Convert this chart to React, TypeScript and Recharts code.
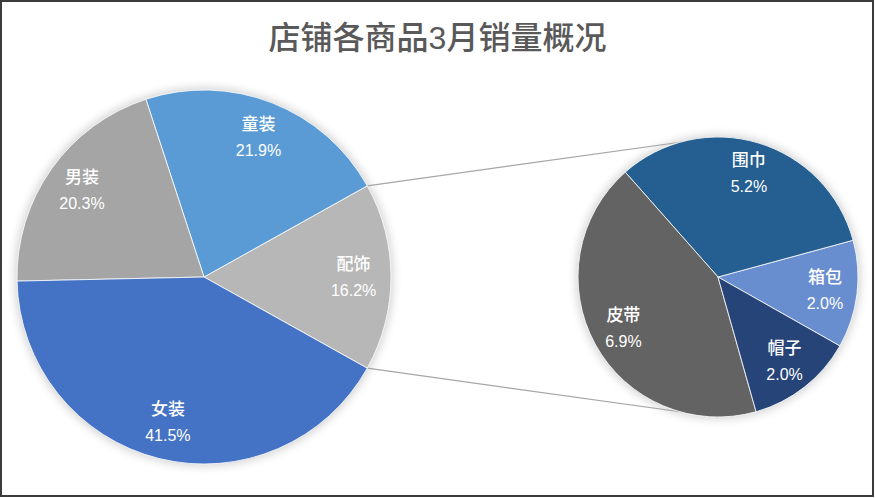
import React from 'react'
import { PieChart, Pie, Cell } from 'recharts'

// main pie (order chosen so 配饰 sits on the right)
const mainNames = ['配饰', '童装', '男装', '女装']
const mainValues = [16.2, 21.9, 20.3, 41.5]
const mainColors = ['#B7B7B7', '#5B9BD5', '#A5A5A5', '#4472C4']

// breakdown of 配饰
const subNames = ['箱包', '围巾', '皮带', '帽子']
const subValues = [2.0, 5.2, 6.9, 2.0]
const subColors = ['#698ED0', '#255E91', '#636363', '#264478']

const title = '店铺各商品3月销量概况'

const W = 875
const H = 498
const main = { cx: 204, cy: 277, r: 187 }
const sub = { cx: 718, cy: 277, r: 140 }
const RADIAN = Math.PI / 180
const FONT = '"Liberation Sans", "Noto Sans CJK SC", sans-serif'

const mainData = mainNames.map((n, i) => ({ name: n, value: mainValues[i] }))
const subData = subNames.map((n, i) => ({ name: n, value: subValues[i] }))

const mainTotal = mainValues.reduce((a, b) => a + b, 0)
const halfAngle = (mainValues[0] / mainTotal) * 180
const mainStart = -halfAngle

// sub pie rotated so 箱包 sits just below the horizontal
const subStart = -29.5

const makeLabel = (ratio: number) => (props: any) => {
  const { cx, cy, midAngle, outerRadius, name, value } = props
  const r = outerRadius * ratio
  const x = cx + r * Math.cos(-midAngle * RADIAN)
  const y = cy + r * Math.sin(-midAngle * RADIAN)
  return (
    <text x={x} y={y} fill='#fff' textAnchor='middle' fontFamily={FONT} fontSize={17} fontWeight={500}>
      <tspan x={x} y={y - 13} dominantBaseline='central'>{name}</tspan>
      <tspan x={x} y={y + 13} dominantBaseline='central' fontSize={16}>{Number(value).toFixed(1)}%</tspan>
    </text>
  )
}

const App = () => {
  const ux = main.cx + main.r * Math.cos(halfAngle * RADIAN)
  const uy = main.cy - main.r * Math.sin(halfAngle * RADIAN)
  const ly = main.cy + main.r * Math.sin(halfAngle * RADIAN)

  return (
    <div style={{ position: 'absolute', left: 0, top: 0, width: W, height: H, background: '#fff' }}>
      <div style={{ position: 'absolute', left: 0, top: 0, width: W - 1, height: H - 1, boxSizing: 'border-box', border: '2px solid #3c3c3c' }} />
      <svg width={W} height={H} style={{ position: 'absolute', left: 0, top: 0 }}>
        <defs>
          <filter id='glow' x='-20%' y='-20%' width='140%' height='140%'>
            <feGaussianBlur stdDeviation='5' />
          </filter>
        </defs>
        <circle cx={main.cx} cy={main.cy} r={main.r + 2} fill='#000' opacity={0.18} filter='url(#glow)' />
        <circle cx={sub.cx} cy={sub.cy} r={sub.r + 2} fill='#000' opacity={0.18} filter='url(#glow)' />
        <line x1={ux} y1={uy} x2={sub.cx} y2={sub.cy - sub.r} stroke='#a6a6a6' strokeWidth={1.2} />
        <line x1={ux} y1={ly} x2={sub.cx} y2={sub.cy + sub.r} stroke='#a6a6a6' strokeWidth={1.2} />
        <text x={W / 2} y={38} textAnchor='middle' dominantBaseline='central' fill='#595959' fontFamily={FONT} fontSize={32} fontWeight={500}>
          {title}
        </text>
      </svg>
      <div style={{ position: 'absolute', left: 0, top: 0 }}>
        <PieChart width={W} height={H} margin={{ top: 0, right: 0, bottom: 0, left: 0 }}>
          <Pie data={mainData} dataKey='value' nameKey='name' cx={main.cx} cy={main.cy} outerRadius={main.r}
            startAngle={mainStart} endAngle={mainStart + 360} stroke='#fff' strokeWidth={0.8}
            label={makeLabel(0.8)} labelLine={false} isAnimationActive={false}>
            {mainData.map((d, i) => <Cell key={d.name} fill={mainColors[i]} />)}
          </Pie>
          <Pie data={subData} dataKey='value' nameKey='name' cx={sub.cx} cy={sub.cy} outerRadius={sub.r}
            startAngle={subStart} endAngle={subStart + 360} stroke='#fff' strokeWidth={0.8}
            label={makeLabel(0.77)} labelLine={false} isAnimationActive={false}>
            {subData.map((d, i) => <Cell key={d.name} fill={subColors[i]} />)}
          </Pie>
        </PieChart>
      </div>
    </div>
  )
}

export default App
